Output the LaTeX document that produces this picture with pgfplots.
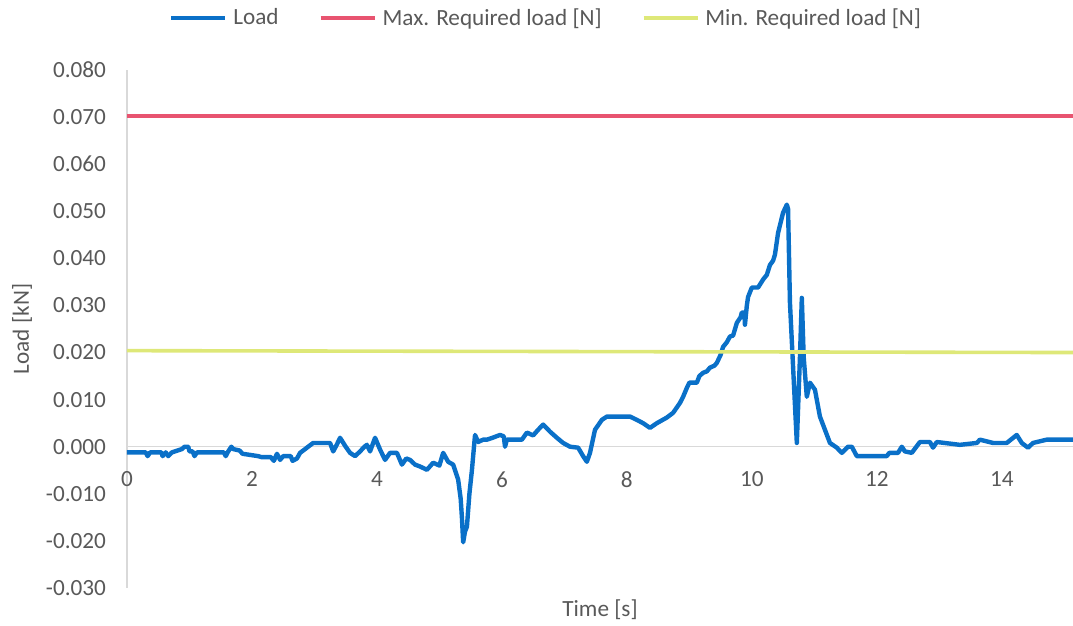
\documentclass[border=0pt]{standalone}
\usepackage{pgfplots}
\pgfplotsset{compat=1.18}
\usepackage{fontspec}
\setmainfont{Carlito}
\definecolor{loadblue}{RGB}{10,112,200}
\definecolor{maxred}{RGB}{232,84,112}
\definecolor{minyellow}{RGB}{222,232,120}
\definecolor{txtgray}{RGB}{89,89,89}
\begin{document}
\begin{tikzpicture}[font=\fontsize{11.6}{14}\selectfont]
\begin{axis}[
  name=ax,
  scale only axis,
  width=473pt, height=259pt,
  xmin=0, xmax=15.14,
  ymin=-0.03, ymax=0.08,
  axis lines=left,
  y axis line style={draw=black!15, line width=0.6pt, -},
  x axis line style={draw=none, -},
  major tick length=0pt,
  scaled y ticks=false,
  scaled x ticks=false,
  xtick={0,2,4,6,8,10,12,14},
  xticklabels={0,2,4,6,8,10,12,14},
  ytick={-0.03,-0.02,-0.01,0,0.01,0.02,0.03,0.04,0.05,0.06,0.07,0.08},
  yticklabels={-0.030,-0.020,-0.010,0.000,0.010,0.020,0.030,0.040,0.050,0.060,0.070,0.080},
  tick label style={text=txtgray},
  xticklabel style={anchor=north, yshift=61.8pt},
  yticklabel style={anchor=east, xshift=-7pt},
  xlabel={Time [s]},
  ylabel={Load [kN]},
  every axis x label/.style={at={(axis description cs:0.5,-0.0425)}, anchor=center, text=txtgray},
  every axis y label/.style={at={(axis description cs:-0.111,0.5)}, anchor=center, rotate=90, text=txtgray},
  legend columns=-1,
  legend style={draw=none, fill=none, at={(axis description cs:0.444,1.10)}, anchor=center,
    text=txtgray, /tikz/every even column/.append style={column sep=18pt},
    /tikz/every odd column/.append style={column sep=1pt}},
  legend image code/.code={\draw[#1] (0pt,0pt) -- (27pt,0pt);},
  clip=true,
]
\addplot[black!15, line width=0.6pt, forget plot] coordinates {(0,0) (15.14,0)};
\addplot[loadblue, line width=2.2pt, line join=round] coordinates {
(0.00,-0.0012) (0.30,-0.0012) (0.33,-0.0020) (0.37,-0.0012) (0.55,-0.0012) (0.57,-0.0020)
(0.62,-0.0012) (0.66,-0.0020) (0.72,-0.0012) (0.88,-0.0005) (0.92,0.0000) (0.98,0.0000)
(1.00,-0.0010) (1.05,-0.0010) (1.08,-0.0020) (1.12,-0.0012) (1.55,-0.0012) (1.58,-0.0020)
(1.62,-0.0010) (1.67,0.0000) (1.70,-0.0005) (1.80,-0.0008) (1.85,-0.0015) (2.00,-0.0018)
(2.10,-0.0020) (2.15,-0.0022) (2.30,-0.0022) (2.35,-0.0030) (2.40,-0.0015) (2.45,-0.0028)
(2.50,-0.0020) (2.62,-0.0020) (2.65,-0.0030) (2.72,-0.0025) (2.77,-0.0013) (2.85,-0.0005)
(2.90,0.0000) (2.98,0.0008) (3.25,0.0008) (3.30,-0.0010) (3.36,0.0005) (3.41,0.0019)
(3.50,0.0000) (3.57,-0.0013) (3.65,-0.0020) (3.73,-0.0010) (3.80,0.0000) (3.84,0.0004)
(3.89,-0.0010) (3.97,0.0019) (4.05,-0.0006) (4.13,-0.0028) (4.21,-0.0013) (4.32,-0.0013)
(4.40,-0.0038) (4.47,-0.0025) (4.53,-0.0028) (4.61,-0.0038) (4.69,-0.0042) (4.80,-0.0049)
(4.90,-0.0034) (5.00,-0.0040) (5.06,-0.0013) (5.14,-0.0032) (5.22,-0.0038) (5.30,-0.0070)
(5.34,-0.0110) (5.36,-0.0150) (5.38,-0.0203) (5.41,-0.0180) (5.44,-0.0170) (5.48,-0.0100)
(5.52,-0.0050) (5.57,0.0025) (5.62,0.0010) (5.70,0.0015) (5.76,0.0015) (5.85,0.0019)
(5.97,0.0025) (6.03,0.0022) (6.05,0.0000) (6.08,0.0015) (6.32,0.0015) (6.40,0.0030)
(6.50,0.0024) (6.58,0.0036) (6.66,0.0047) (6.77,0.0032) (6.88,0.0019) (6.98,0.0008)
(7.09,0.0000) (7.22,-0.0002) (7.30,-0.0020) (7.36,-0.0032) (7.41,-0.0013) (7.49,0.0036)
(7.60,0.0057) (7.68,0.0064) (8.05,0.0064) (8.16,0.0057) (8.26,0.0050) (8.37,0.0040)
(8.48,0.0050) (8.64,0.0062) (8.74,0.0072) (8.85,0.0093) (8.90,0.0106) (8.96,0.0125) (9.00,0.0136)
(9.12,0.0136) (9.16,0.0150) (9.22,0.0157) (9.28,0.0160) (9.33,0.0168) (9.40,0.0172) (9.44,0.0178)
(9.50,0.0195) (9.54,0.0212) (9.60,0.0222) (9.65,0.0234) (9.70,0.0236) (9.76,0.0263) (9.82,0.0275)
(9.84,0.0285) (9.88,0.0285) (9.89,0.0259) (9.92,0.0300) (9.94,0.0318) (10.00,0.0338) (10.10,0.0338)
(10.18,0.0355) (10.24,0.0365) (10.29,0.0386) (10.34,0.0395) (10.37,0.0408) (10.42,0.0454) (10.50,0.0497) (10.56,0.0514)
(10.58,0.0505) (10.61,0.0306) (10.66,0.0170) (10.72,0.0008) (10.77,0.0190) (10.80,0.0316)
(10.83,0.0190) (10.88,0.0106) (10.93,0.0136) (11.01,0.0121) (11.09,0.0064) (11.17,0.0036)
(11.25,0.0008) (11.36,-0.0002) (11.44,-0.0013) (11.54,0.0000) (11.60,0.0000) (11.68,-0.0020)
(12.16,-0.0020) (12.20,-0.0013) (12.34,-0.0013) (12.40,0.0000) (12.45,-0.0010) (12.56,-0.0013)
(12.69,0.0010) (12.85,0.0010) (12.90,-0.0002) (12.96,0.0010) (13.33,0.0004) (13.60,0.0008)
(13.65,0.0015) (13.86,0.0008) (14.08,0.0008) (14.24,0.0025) (14.32,0.0008) (14.42,-0.0002)
(14.50,0.0008) (14.72,0.0015) (15.14,0.0015)
};
\addlegendentry{Load}
\addplot[maxred, line width=2pt] coordinates {(0,0.0702) (15.14,0.0702)};
\addlegendentry{Max. Required load [N]}
\addplot[minyellow, line width=1.8pt] coordinates {(0,0.0204) (15.14,0.0200)};
\addlegendentry{Min. Required load [N]}
\end{axis}
\pgfresetboundingbox
\path ([xshift=-63.5pt,yshift=-19pt]ax.south west) rectangle ([yshift=35pt]ax.north east);
\end{tikzpicture}
\end{document}
